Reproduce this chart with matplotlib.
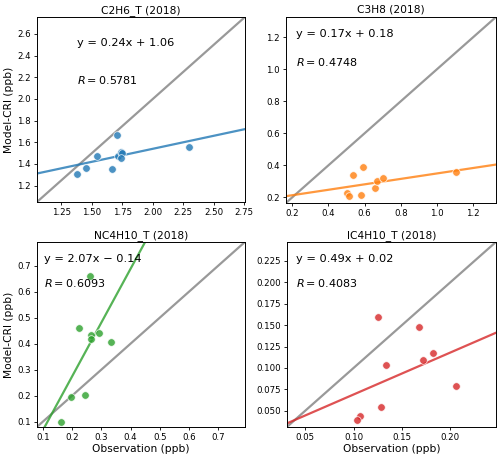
import numpy as np
import matplotlib
matplotlib.use("Agg")
import matplotlib.pyplot as plt
from matplotlib.ticker import MultipleLocator

titles = ["C2H6_T (2018)", "C3H8 (2018)", "NC4H10_T (2018)", "IC4H10_T (2018)"]

c2h6_obs = [1.378, 1.454, 1.541, 1.666, 1.704, 1.712, 1.737, 1.748, 1.742, 2.296]
c2h6_mod = [1.312, 1.365, 1.477, 1.355, 1.663, 1.470, 1.508, 1.503, 1.456, 1.553]

c3h8_obs = [0.503, 0.516, 0.536, 0.593, 0.578, 0.659, 0.668, 0.703, 1.105]
c3h8_mod = [0.231, 0.208, 0.342, 0.389, 0.217, 0.262, 0.304, 0.323, 0.358]

nc4_obs = [0.260, 0.222, 0.266, 0.263, 0.292, 0.334, 0.196, 0.243, 0.161]
nc4_mod = [0.659, 0.460, 0.433, 0.417, 0.439, 0.407, 0.193, 0.203, 0.100]

ic4_obs = [0.125, 0.168, 0.182, 0.172, 0.133, 0.206, 0.128, 0.107, 0.104]
ic4_mod = [0.160, 0.148, 0.118, 0.109, 0.104, 0.079, 0.054, 0.044, 0.039]

slopes = [0.24, 0.17, 2.07, 0.49]
intercepts = [1.06, 0.18, -0.14, 0.02]
r_values = [0.5781, 0.4748, 0.6093, 0.4083]
eq_texts = ["y = 0.24x + 1.06", "y = 0.17x + 0.18", "y = 2.07x \u2212 0.14", "y = 0.49x + 0.02"]

obs_all = [c2h6_obs, c3h8_obs, nc4_obs, ic4_obs]
mod_all = [c2h6_mod, c3h8_mod, nc4_mod, ic4_mod]
colors = ["#1f77b4", "#ff7f0e", "#2ca02c", "#d62728"]

rects = [
    [0.074, 0.560, 0.416, 0.403],
    [0.572, 0.558, 0.420, 0.405],
    [0.074, 0.070, 0.416, 0.403],
    [0.574, 0.070, 0.418, 0.403],
]
steps = [(0.25, 0.2), (0.2, 0.2), (0.1, 0.1), (0.05, 0.025)]
eq_pos = [(0.19, 0.86, 0.66), (0.048, 0.91, 0.76), (0.034, 0.91, 0.78), (0.043, 0.91, 0.776)]

fig = plt.figure(figsize=(5.0, 4.59), dpi=100)
for i in range(4):
    ax = fig.add_axes(rects[i])
    x = np.array(obs_all[i]); y = np.array(mod_all[i])
    lo = 0.8 * min(x.min(), y.min())
    hi = 1.2 * max(x.max(), y.max())
    ax.plot([lo, hi], [lo, hi], color="gray", lw=1.6, alpha=0.8, zorder=1)
    xs = np.array([lo, hi])
    ax.plot(xs, slopes[i] * xs + intercepts[i], color=colors[i], lw=1.6, alpha=0.8, zorder=2)
    ax.scatter(x, y, s=30, color=colors[i], alpha=0.8, edgecolor="white", linewidth=0.6, zorder=3)
    ax.set_xlim(lo, hi); ax.set_ylim(lo, hi)
    ax.xaxis.set_major_locator(MultipleLocator(steps[i][0]))
    ax.yaxis.set_major_locator(MultipleLocator(steps[i][1]))
    ax.tick_params(labelsize=6.2, length=2.5, width=0.6, pad=2)
    ax.set_title(titles[i], fontsize=7.7, pad=3)
    if i in (0, 2):
        ax.set_ylabel("Model-CRI (ppb)", fontsize=7.7, labelpad=2)
    if i in (2, 3):
        ax.set_xlabel("Observation (ppb)", fontsize=7.7, labelpad=1)
    ex, ey, ry = eq_pos[i]
    ax.text(ex, ey, eq_texts[i], transform=ax.transAxes, fontsize=8.2, va="center", ha="left")
    ax.text(ex, ry, "$R = %.4f$" % r_values[i], transform=ax.transAxes, fontsize=8.0, va="center", ha="left")
    for s in ax.spines.values():
        s.set_linewidth(0.7)

fig.savefig("out.png", dpi=100)
